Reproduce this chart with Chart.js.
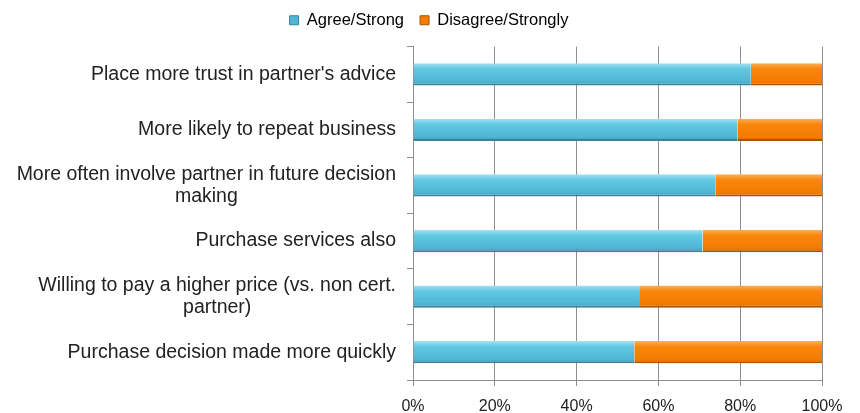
<!DOCTYPE html>
<html>
<head>
<meta charset="utf-8">
<script src="https://cdn.jsdelivr.net/npm/chart.js@4"></script>
<style>
  html, body { margin: 0; padding: 0; background: #fff; }
  #wrap { width: 860px; height: 413px; }
</style>
</head>
<body>
<div id="wrap"><canvas id="barChart" width="860" height="413"></canvas></div>
<script>
const categories = [
  "Place more trust in partner's advice",
  'More likely to repeat business',
  ['More often involve partner in future decision', 'making'],
  'Purchase services also',
  ['Willing to pay a higher price (vs. non cert.', 'partner)'],
  'Purchase decision made more quickly'
];
const agree = [82.6, 79.4, 73.9, 70.8, 55.5, 54.1];
const disagree = [17.4, 20.6, 26.1, 29.2, 44.5, 45.9];
const xTicks = [0, 20, 40, 60, 80, 100];

const gridGray = '#8f8f8f';
const textColor = '#222';
const fontFamily = '"Liberation Sans", Arial, sans-serif';
const yFontSize = 19.5;
const yLineHeight = 22.4;

// glossy look of the original bars, built once the bars have a position
function barFill(stops, flat) {
  return context => {
    const el = context.element;
    if (!el || el.y === undefined || !el.height) return flat;
    const top = el.y - el.height / 2;
    const g = context.chart.ctx.createLinearGradient(0, top, 0, top + el.height);
    g.addColorStop(0, stops[0]);
    g.addColorStop(0.25, stops[1]);
    g.addColorStop(0.8, stops[2]);
    g.addColorStop(1, stops[3]);
    return g;
  };
}

// category labels: single lines right aligned, wrapped lines centred on each other
const yLabels = {
  id: 'yLabels',
  afterDraw(chart) {
    const scale = chart.scales.y;
    const c = chart.ctx;
    const right = scale.right - 6 - 11;
    c.save();
    c.font = yFontSize + 'px ' + fontFamily;
    c.fillStyle = textColor;
    c.textBaseline = 'middle';
    c.textAlign = 'center';
    scale.ticks.forEach((t, i) => {
      const label = chart.data.labels[i];
      const lines = Array.isArray(label) ? label : [label];
      const w = Math.max(...lines.map(l => c.measureText(l).width));
      const cx = right - w / 2;
      const y0 = scale.getPixelForTick(i) - (lines.length - 1) * yLineHeight / 2;
      lines.forEach((l, j) => c.fillText(l, cx, y0 + j * yLineHeight));
    });
    c.restore();
  }
};

// legend: a little room below it, and nudged to where the original sits
const legendPlace = {
  id: 'legendPlace',
  beforeInit(chart) {
    const fit = chart.legend.fit;
    chart.legend.fit = function () {
      fit.bind(chart.legend)();
      this.height += 4;
    };
  },
  afterLayout(chart) {
    const lg = chart.legend;
    lg.left += 18; lg.right += 18;
    lg.top -= 4; lg.bottom -= 4;
  }
};

const ctx = document.getElementById('barChart').getContext('2d');
const barChart = new Chart(ctx, {
  type: 'bar',
  data: {
    labels: categories,
    datasets: [{
      label: 'Agree/Strong',
      data: agree,
      backgroundColor: barFill(['#9fe3f4', '#62c8e2', '#4fb7d4', '#3f9dba'], '#55c0dc'),
      borderColor: '#35849b',
      borderWidth: { top: 0, right: 0, bottom: 2, left: 0 },
      borderSkipped: false
    }, {
      label: 'Disagree/Strongly',
      data: disagree,
      backgroundColor: barFill(['#fbb055', '#f8870c', '#f47c00', '#d86a00'], '#f47c00'),
      borderColor: '#a85400',
      borderWidth: { top: 0, right: 0, bottom: 2, left: 0 },
      borderSkipped: false
    }]
  },
  plugins: [yLabels, legendPlace],
  options: {
    indexAxis: 'y',
    responsive: false,
    animation: false,
    devicePixelRatio: 1,
    layout: { padding: { top: 0, right: 38, bottom: 0, left: 0 } },
    datasets: { bar: { categoryPercentage: 1, barPercentage: 0.4 } },
    plugins: {
      tooltip: { enabled: false },
      legend: {
        position: 'top',
        labels: {
          boxWidth: 9,
          boxHeight: 9,
          padding: 16,
          color: textColor,
          generateLabels: chart => chart.data.datasets.map((ds, i) => ({
            text: ds.label,
            fillStyle: i === 0 ? '#4fb7d4' : '#f47c00',
            strokeStyle: i === 0 ? '#35849b' : '#a85400',
            lineWidth: 1,
            datasetIndex: i
          })),
          font: { family: fontFamily, size: 16.5 }
        }
      }
    },
    scales: {
      x: {
        stacked: true,
        min: 0,
        max: 100,
        afterBuildTicks: scale => {
          scale.ticks = xTicks.map(v => ({ value: v }));
        },
        afterFit: scale => { scale.height = 33; },
        grid: { color: gridGray, tickLength: 6, lineWidth: 1 },
        border: { color: gridGray },
        ticks: {
          padding: 11,
          color: textColor,
          font: { family: fontFamily, size: 16 },
          callback: v => v + '%'
        }
      },
      y: {
        stacked: true,
        afterFit: scale => { scale.width = 413; },
        grid: { offset: true, drawOnChartArea: false, color: gridGray, tickLength: 6 },
        border: { color: gridGray },
        ticks: { display: false }
      }
    }
  }
});
// second pass so the gradients can use the bar positions
barChart.update();
</script>
</body>
</html>
